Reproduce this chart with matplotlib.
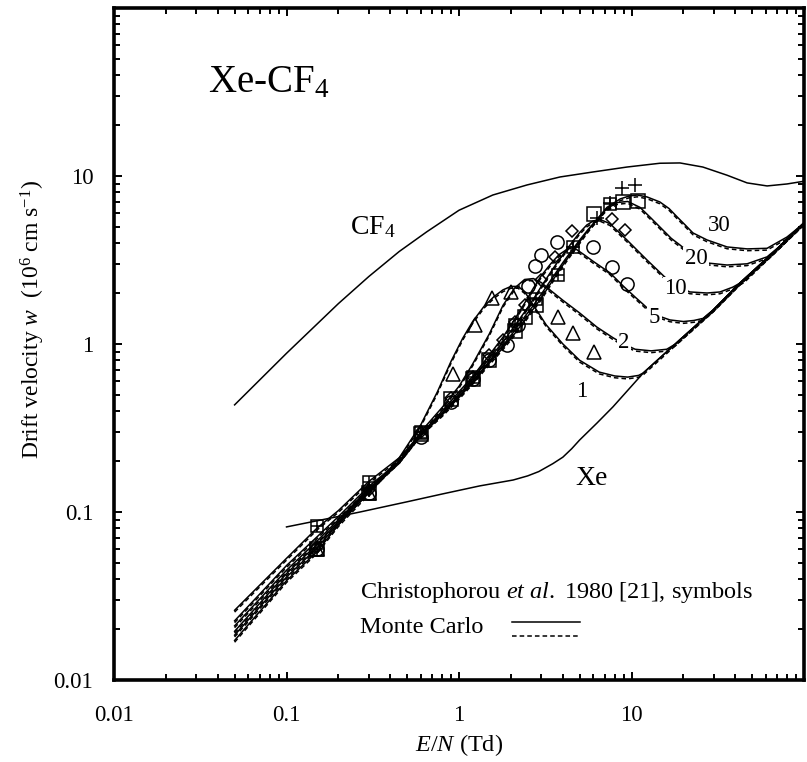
import matplotlib
matplotlib.use('Agg')
import matplotlib.pyplot as plt
import matplotlib.transforms as mtransforms
from matplotlib.ticker import FixedLocator, LogLocator, NullFormatter

plt.rcParams['font.family'] = ['Liberation Serif', 'DejaVu Serif']
plt.rcParams['mathtext.fontset'] = 'custom'
plt.rcParams['mathtext.rm'] = 'Liberation Serif'
plt.rcParams['mathtext.it'] = 'Liberation Serif:italic'
plt.rcParams['mathtext.bf'] = 'Liberation Serif:bold'

# pure gases
cf4_x = [0.05, 0.1, 0.2, 0.3, 0.45, 0.65, 1.0, 1.57, 2.48, 3.85, 5.98, 9.42, 14.6, 19.1, 25.9, 35.8, 46.8, 61.1, 79.7, 100]
cf4_y = [0.434, 0.88, 1.74, 2.52, 3.55, 4.65, 6.25, 7.7, 8.84, 9.86, 10.56, 11.3, 11.9, 11.95, 11.3, 10.1, 9.09, 8.72, 8.96, 9.3]

xe_x = [0.1, 0.18, 0.267, 0.5, 0.8, 1.32, 2.06, 2.5, 2.9, 3.5, 4.0, 4.5, 5.0, 6.3, 7.8, 11.7, 19.1, 29.7, 42.6, 66.0, 100]
xe_y = [0.0815, 0.092, 0.1, 0.115, 0.128, 0.143, 0.155, 0.164, 0.174, 0.194, 0.212, 0.238, 0.268, 0.338, 0.422, 0.672,
        1.06, 1.59, 2.31, 3.48, 5.26]

# Monte Carlo, mixtures (% CF4)
c1_x = [0.05, 0.1, 0.15, 0.2, 0.3, 0.45, 0.6, 0.75, 0.9, 1.05, 1.2, 1.4, 1.6, 1.8, 2.0, 2.2, 2.4, 2.7, 3.2, 4.0, 5.0,
        6.5, 8.0, 9.5, 11.0, 11.7, 19.1, 29.7, 42.6, 66.0, 100]
c1_y = [0.0172, 0.039, 0.058, 0.084, 0.13, 0.21, 0.33, 0.52, 0.79, 1.08, 1.36, 1.68, 1.92, 2.1, 2.2, 2.2, 2.05, 1.7,
        1.3, 1.0, 0.8, 0.68, 0.645, 0.635, 0.65, 0.672, 1.06, 1.59, 2.31, 3.48, 5.26]

c2_x = [0.05, 0.1, 0.15, 0.2, 0.3, 0.45, 0.6, 0.8, 1.0, 1.2, 1.5, 1.8, 2.1, 2.4, 2.7, 3.0, 3.4, 4.0, 5.0, 6.3, 7.8,
        9.0, 10.5, 13.0, 16.0, 18.0, 19.1, 29.7, 42.6, 66.0, 100]
c2_y = [0.0185, 0.041, 0.061, 0.086, 0.134, 0.2, 0.3, 0.42, 0.56, 0.76, 1.15, 1.7, 2.15, 2.42, 2.45, 2.32, 2.08, 1.82,
        1.53, 1.26, 1.09, 1.0, 0.93, 0.91, 0.93, 1.0, 1.06, 1.59, 2.31, 3.48, 5.26]

c5_x = [0.05, 0.1, 0.15, 0.2, 0.3, 0.45, 0.6, 0.8, 1.0, 1.2, 1.5, 1.8, 2.1, 2.4, 2.7, 3.0, 3.4, 3.8, 4.3, 4.8, 5.3,
        6.0, 7.5, 9.0, 10.5, 11.7, 13.5, 16.7, 20.0, 23.0, 26.0, 29.7, 42.6, 66.0, 100]
c5_y = [0.0195, 0.043, 0.064, 0.088, 0.136, 0.2, 0.29, 0.4, 0.52, 0.64, 0.86, 1.1, 1.4, 1.75, 2.15, 2.55, 3.0, 3.4,
        3.7, 3.65, 3.4, 3.1, 2.65, 2.2, 1.9, 1.72, 1.5, 1.39, 1.36, 1.38, 1.42, 1.59, 2.31, 3.48, 5.26]

c10_x = [0.05, 0.1, 0.15, 0.2, 0.3, 0.45, 0.6, 0.8, 1.0, 1.2, 1.5, 1.8, 2.1, 2.4, 2.7, 3.0, 3.5, 4.0, 4.5, 5.0, 5.5,
         6.0, 6.6, 7.5, 9.4, 12.3, 15.6, 18.4, 21.8, 27.4, 32.6, 38.7, 45.0, 66.0, 100]
c10_y = [0.021, 0.045, 0.067, 0.09, 0.138, 0.2, 0.29, 0.39, 0.5, 0.62, 0.82, 1.03, 1.28, 1.55, 1.85, 2.2, 2.8, 3.4,
         4.0, 4.6, 5.1, 5.4, 5.5, 5.2, 4.16, 3.16, 2.5, 2.2, 2.04, 2.01, 2.04, 2.18, 2.38, 3.48, 5.26]

c20_x = [0.05, 0.1, 0.15, 0.2, 0.3, 0.45, 0.6, 0.8, 1.0, 1.2, 1.5, 1.8, 2.1, 2.4, 2.7, 3.0, 3.5, 4.0, 4.5, 5.0, 5.6,
         6.3, 7.2, 8.3, 9.5, 11.2, 13.0, 14.6, 17.0, 19.1, 22.0, 24.0, 27.8, 35.8, 46.8, 61.1, 72.0, 100]
c20_y = [0.0225, 0.048, 0.071, 0.094, 0.142, 0.2, 0.29, 0.385, 0.49, 0.6, 0.79, 0.98, 1.2, 1.45, 1.7, 1.98, 2.5, 3.05,
         3.6, 4.15, 4.8, 5.5, 6.4, 6.95, 7.05, 6.5, 5.6, 4.97, 4.25, 3.88, 3.45, 3.3, 3.03, 2.95, 3.0, 3.3, 3.8, 5.26]

c30_x = [0.05, 0.1, 0.15, 0.2, 0.3, 0.45, 0.6, 0.8, 1.0, 1.2, 1.5, 1.8, 2.1, 2.4, 2.7, 3.0, 3.5, 4.0, 4.5, 5.0, 5.6,
         6.3, 7.2, 8.6, 9.7, 10.8, 12.3, 14.6, 16.5, 18.4, 20.5, 22.7, 27.4, 35.8, 46.8, 61.1, 79.7, 97.0, 100]
c30_y = [0.026, 0.053, 0.08, 0.102, 0.152, 0.21, 0.29, 0.38, 0.48, 0.59, 0.77, 0.95, 1.15, 1.38, 1.62, 1.88, 2.4, 2.95,
         3.5, 4.05, 4.75, 5.5, 6.5, 7.3, 7.6, 7.7, 7.5, 7.0, 6.4, 5.7, 5.1, 4.58, 4.16, 3.78, 3.68, 3.71, 4.33, 5.1, 5.26]

# Christophorou et al. 1980 measurements
tri_x = [0.15, 0.3, 0.6, 0.92, 1.23, 1.55, 2.0, 3.75, 4.6, 6.1]
tri_y = [0.06, 0.13, 0.3, 0.66, 1.3, 1.87, 2.05, 1.45, 1.16, 0.9]
circ_x = [0.15, 0.3, 0.6, 0.9, 1.2, 1.5, 1.9, 2.2, 2.5, 2.75, 3.0, 3.7, 6.0, 7.7, 9.4]
circ_y = [0.06, 0.13, 0.28, 0.45, 0.62, 0.8, 0.98, 1.3, 2.2, 2.9, 3.4, 4.05, 3.78, 2.87, 2.28]
diam_x = [0.15, 0.3, 0.6, 0.9, 1.2, 1.5, 1.8, 2.1, 2.4, 3.0, 3.6, 4.5, 7.7, 9.2]
diam_y = [0.062, 0.135, 0.3, 0.48, 0.64, 0.86, 1.05, 1.35, 1.7, 2.4, 3.3, 4.7, 5.55, 4.77]
sq_x = [0.15, 0.3, 0.6, 0.9, 1.2, 1.5, 2.1, 2.4, 2.8, 6.1, 8.9, 10.9]
sq_y = [0.06, 0.13, 0.29, 0.47, 0.62, 0.8, 1.2, 1.45, 1.7, 5.9, 7.0, 7.1]
xsq_x = [0.15, 0.3, 0.6, 1.2, 2.1, 2.8, 3.75, 4.6, 7.5]
xsq_y = [0.082, 0.15, 0.3, 0.64, 1.3, 1.85, 2.58, 3.8, 6.8]
plus_x = [0.15, 0.3, 0.6, 4.6, 6.3, 7.5, 8.8, 10.5]
plus_y = [0.06, 0.135, 0.3, 3.8, 5.6, 6.9, 8.5, 8.8]

mix_labels = ['1', '2', '5', '10', '20', '30']
label_pos = [(0.669, 0.421), (0.731, 0.494), (0.775, 0.531), (0.797, 0.574), (0.827, 0.619), (0.861, 0.668)]

fig = plt.figure(figsize=(8.07, 7.62), dpi=100)
ax = fig.add_axes([0.1413, 0.1076, 0.855, 0.882])

lw = 1.1
ax.plot(cf4_x, cf4_y, color='k', lw=lw)
ax.plot(xe_x, xe_y, color='k', lw=lw)

dash_tr = mtransforms.offset_copy(ax.transData, fig=fig, x=0, y=-1.3, units='points')
for cx, cy in [(c1_x, c1_y), (c2_x, c2_y), (c5_x, c5_y), (c10_x, c10_y), (c20_x, c20_y), (c30_x, c30_y)]:
    ax.plot(cx, cy, color='k', lw=lw)
    ax.plot(cx, cy, color='k', lw=lw, dashes=(3, 2), transform=dash_tr)

mk = dict(color='k', ls='none', mfc='none', mec='k', mew=1.1)
ax.plot(tri_x, tri_y, marker='^', ms=9.5, **mk)
ax.plot(circ_x, circ_y, marker='o', ms=9.5, **mk)
ax.plot(diam_x, diam_y, marker='D', ms=6.5, **mk)
ax.plot(sq_x, sq_y, marker='s', ms=9.5, **mk)
ax.plot(xsq_x, xsq_y, marker='s', ms=8.5, **mk)
ax.plot(xsq_x, xsq_y, marker='+', ms=8.5, **mk)
ax.plot(plus_x, plus_y, marker='+', ms=10, **mk)

ax.set_xscale('log')
ax.set_yscale('log')
ax.set_xlim(0.01, 100)
ax.set_ylim(0.01, 100)

ax.xaxis.set_major_locator(FixedLocator([0.01, 0.1, 1, 10, 100]))
ax.yaxis.set_major_locator(FixedLocator([0.01, 0.1, 1, 10, 100]))
ax.set_xticklabels(['0.01', '0.1', '1', '10', ''])
ax.set_yticklabels(['0.01', '0.1', '1', '10', ''])
for a in (ax.xaxis, ax.yaxis):
    a.set_minor_locator(LogLocator(base=10, subs=range(2, 10), numticks=20))
    a.set_minor_formatter(NullFormatter())
ax.tick_params(which='both', direction='in', top=True, right=True, width=1.4, labelsize=16.5)
ax.tick_params(which='major', length=6)
ax.tick_params(which='minor', length=4)
ax.tick_params(axis='x', pad=18)
ax.tick_params(axis='y', pad=15)
for s in ax.spines.values():
    s.set_linewidth(2.6)

ax.set_ylabel('Drift velocity $w$  (10$^6$ cm s$^{-1}$)', fontsize=17)
ax.yaxis.set_label_coords(-0.097, 0.536)
ax.set_xlabel('$E/N$ (Td)', fontsize=17.5)
ax.xaxis.set_label_coords(0.5, -0.078)

ax.text(0.136, 0.875, 'Xe-CF$_4$', transform=ax.transAxes, fontsize=28)
ax.text(0.342, 0.664, 'CF$_4$', transform=ax.transAxes, fontsize=20)
ax.text(0.669, 0.290, 'Xe', transform=ax.transAxes, fontsize=20)
for lab, (px, py) in zip(mix_labels, label_pos):
    ax.text(px, py, lab, transform=ax.transAxes, fontsize=16.5,
            bbox=dict(facecolor='white', edgecolor='none', pad=1.0))

ax.text(0.357, 0.122, 'Christophorou $et\\ al.$ 1980 [21], symbols', transform=ax.transAxes, fontsize=17.5)
ax.text(0.357, 0.070, 'Monte Carlo', transform=ax.transAxes, fontsize=17.5)
ax.plot([0.577, 0.675], [0.0863, 0.0863], color='k', lw=lw, transform=ax.transAxes)
ax.plot([0.577, 0.672], [0.0655, 0.0655], color='k', lw=lw, dashes=(3, 2), transform=ax.transAxes)

fig.savefig('out.png', dpi=100)
